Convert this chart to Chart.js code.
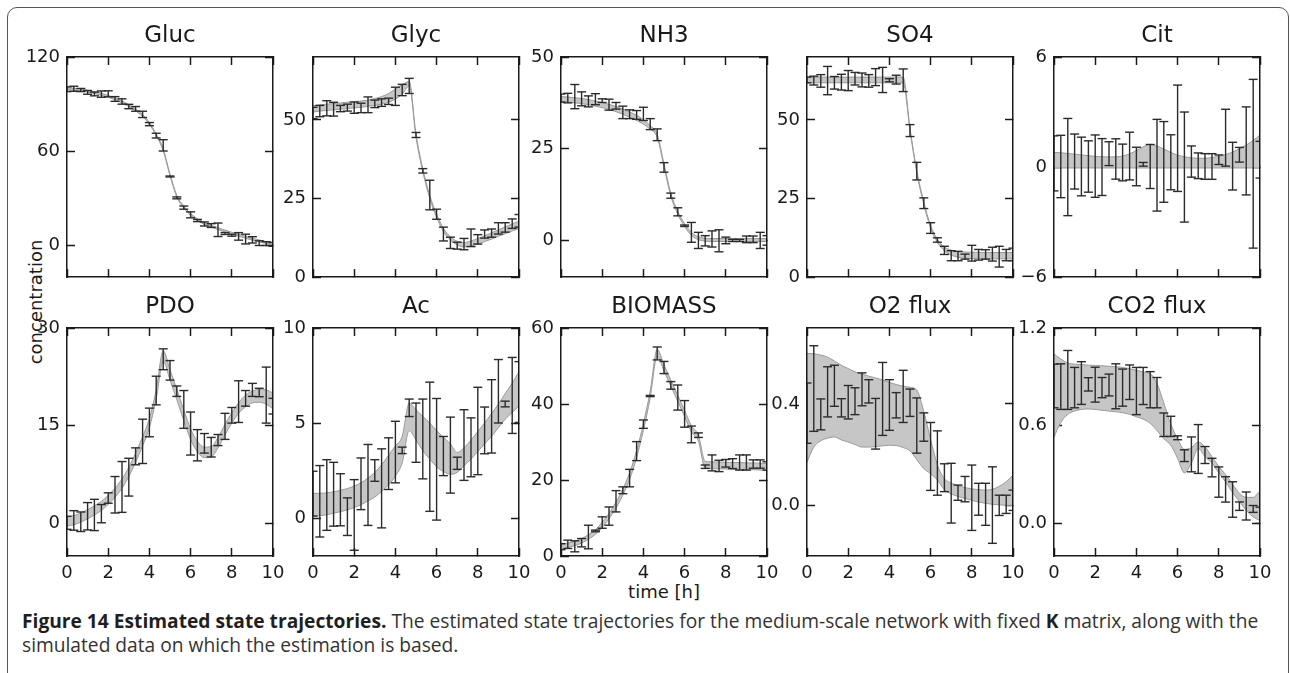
<!DOCTYPE html>
<html>
<head>
<meta charset="utf-8">
<title>Estimated state trajectories</title>
<script src="https://cdn.jsdelivr.net/npm/chart.js@4.4.1/dist/chart.umd.min.js"></script>
<style>
  html, body { margin: 0; padding: 0; background: #fff; }
  body { width: 1290px; height: 673px; position: relative; overflow: hidden; font-family: "DejaVu Sans", sans-serif; }
  #frame { position: absolute; left: 7px; top: 7px; width: 1282px; height: 800px; box-sizing: border-box; border: 1px solid #555; border-radius: 10px; }
  canvas { position: absolute; }
  .axlabel { position: absolute; font-size: 18px; line-height: 20px; color: #1a1a1a; white-space: nowrap; }
  #ylabel { left: 36px; top: 302px; transform: translate(-50%, -50%) rotate(-90deg); }
  #xlabel { left: 664px; top: 582px; transform: translateX(-50%); }
  #caption { position: absolute; left: 22px; top: 609px; font-family: "Open Sans", sans-serif; font-size: 19.2px; line-height: 24px; color: #333; white-space: nowrap; }
  #caption b { color: #1f1f1f; }
</style>
</head>
<body>
<div id="frame"></div>
<div id="ylabel" class="axlabel">concentration</div>
<div id="xlabel" class="axlabel">time [h]</div>
<div id="caption"><b>Figure 14 Estimated state trajectories.</b> The estimated state trajectories for the medium-scale network with fixed <b>K</b> matrix, along with the<br>simulated data on which the estimation is based.</div>
<script>
// sample times (h) and axis ticks
const times = [0, 0.33, 0.67, 1, 1.33, 1.67, 2, 2.33, 2.67, 3, 3.33, 3.67, 4, 4.33, 4.67, 5, 5.33, 5.67, 6, 6.33, 6.67, 7, 7.33, 7.67, 8, 8.33, 8.67, 9, 9.33, 9.67, 10];
const xTicks = [0, 2, 4, 6, 8, 10];

const panelNames = ['Gluc', 'Glyc', 'NH3', 'SO4', 'Cit', 'PDO', 'Ac', 'BIOMASS', 'O2 flux', 'CO2 flux'];
const yMins = [-20, 0, -10, 0, -6, -5, -2, 0, -0.2, -0.2];
const yMaxs = [120, 70, 50, 70, 6, 30, 10, 60, 0.7, 1.2];
const yTickVals = [[0, 60, 120], [0, 25, 50], [0, 25, 50], [0, 25, 50], [-6, 0, 6], [0, 15, 30], [0, 5, 10], [0, 20, 40, 60], [0, 0.4], [0, 0.6, 1.2]];
const yTickLabels = [['0', '60', '120'], ['0', '25', '50'], ['0', '25', '50'], ['0', '25', '50'], ['\u22126', '0', '6'], ['0', '15', '30'], ['0', '5', '10'], ['0', '20', '40', '60'], ['0.0', '0.4'], ['0.0', '0.6', '1.2']];

// simulated data: value and error bar half length
const glucObs = [99.5, 99.8, 99.0, 97.5, 96.5, 96.4, 96.6, 93.3, 91.7, 88.5, 87.0, 83.5, 77.3, 70.0, 63.8, 44.0, 30.4, 24.2, 19.6, 16.0, 13.8, 12.8, 10.1, 7.7, 6.6, 5.9, 4.2, 3.7, 1.6, 1.3, 0.8];
const glucErr = [1.5, 1.6, 1.0, 1.2, 1.2, 2.0, 1.9, 1.5, 1.7, 1.4, 1.5, 2.0, 1.0, 1.5, 3.6, 0.3, 0.6, 1.0, 1.9, 0.7, 1.3, 1.2, 4.3, 0.6, 0.6, 2.4, 3.1, 2.0, 1.5, 1.2, 1.2];
const glycObs = [52.2, 52.8, 53.7, 53.4, 53.6, 53.9, 53.9, 53.8, 54.8, 55.1, 55.5, 55.9, 57.5, 59.5, 60.8, 45.2, 33.8, 26.1, 20.0, 13.7, 10.9, 10.0, 10.5, 12.5, 12.0, 13.7, 14.0, 15.5, 15.8, 17.0, 17.9];
const glycErr = [1.8, 1.8, 2.4, 2.2, 1.0, 1.1, 1.8, 1.5, 2.5, 1.2, 1.2, 1.0, 2.9, 1.8, 2.4, 0.8, 0.7, 4.7, 1.6, 2.2, 1.8, 1.1, 1.8, 2.8, 1.5, 1.3, 1.3, 1.8, 1.5, 1.5, 2.0];
const nh3Obs = [38.8, 38.8, 39.2, 38.6, 37.9, 38.5, 38.1, 37.0, 36.7, 34.9, 34.4, 34.2, 34.5, 31.7, 28.8, 19.9, 12.2, 7.8, 4.0, 2.2, 0.0, -0.1, 0.4, -0.1, 0.0, 0.0, 0.0, 0.3, 0.3, 0.0, 0.0];
const nh3Err = [1.1, 1.3, 3.3, 1.9, 1.5, 1.5, 0.5, 1.5, 0.9, 1.7, 1.2, 1.2, 1.8, 1.5, 1.6, 1.3, 0.7, 1.1, 0.2, 2.7, 2.2, 1.4, 2.2, 3.0, 0.9, 0.3, 0.3, 0.9, 0.9, 2.2, 1.3];
const so4Obs = [62.7, 62.5, 62.4, 62.5, 61.8, 62.0, 62.5, 63.1, 62.7, 62.4, 63.6, 62.7, 62.6, 62.8, 62.6, 46.6, 33.7, 23.5, 15.6, 11.8, 8.5, 6.8, 6.7, 6.5, 7.6, 7.1, 7.2, 7.3, 6.5, 7.0, 7.2];
const so4Err = [0.9, 1.4, 2.0, 4.5, 2.0, 2.5, 3.2, 2.0, 2.2, 2.0, 2.7, 4.0, 0.5, 1.4, 3.6, 1.9, 2.8, 1.7, 1.7, 0.7, 1.3, 1.6, 1.5, 0.8, 2.5, 1.7, 1.5, 2.2, 3.3, 1.8, 2.0];
const citObs = [0.2, 0.03, 0.0, 0.3, 0.03, 0.03, 0.05, 0.0, 0.73, 0.44, 0.25, 0.6, 0.03, 0.15, 0.03, 0.1, 0.28, 0.26, 1.57, 0.0, 0.3, 0.07, 0.03, 0.03, 0.4, 1.6, 0.05, 0.67, 0.88, 0.18, 0.4];
const citErr = [1.5, 1.7, 2.65, 1.5, 1.6, 1.4, 1.7, 1.55, 0.65, 1.1, 1.0, 1.3, 1.05, 0.1, 1.2, 2.5, 2.2, 1.5, 2.9, 3.0, 0.85, 0.7, 0.7, 0.7, 0.26, 1.55, 1.3, 0.4, 2.4, 4.6, 1.0];
const pdoObs = [0.1, 0.46, 0.26, 1.1, 1.3, 1.5, 3.9, 4.4, 5.6, 7.1, 10.3, 12.6, 15.5, 20.4, 25.2, 23.5, 20.3, 17.5, 13.8, 12.0, 12.3, 11.7, 12.8, 14.9, 16.6, 18.7, 19.2, 20.5, 20.1, 19.7, 18.0];
const pdoErr = [1.0, 1.5, 1.5, 2.1, 2.4, 1.4, 0.8, 2.8, 3.9, 2.9, 1.3, 3.4, 2.2, 2.2, 1.6, 1.5, 0.8, 2.9, 3.3, 2.4, 1.5, 1.5, 0.85, 2.0, 1.2, 3.2, 1.2, 1.0, 0.65, 4.3, 1.2];
const acObs = [1.28, 0.88, 1.21, 1.25, 0.96, 0.07, 0.16, 1.8, 1.74, 2.5, 1.56, 2.86, 3.47, 3.56, 5.8, 4.49, 4.16, 3.75, 3.09, 3.26, 3.31, 2.88, 3.84, 3.72, 4.58, 4.61, 5.35, 6.67, 6.0, 6.45, 6.63];
const acErr = [1.18, 1.88, 1.86, 1.68, 1.37, 0.99, 1.86, 1.36, 2.13, 0.57, 2.08, 1.36, 1.62, 0.17, 0.46, 1.56, 2.1, 3.4, 3.2, 1.03, 2.0, 0.32, 1.86, 1.55, 2.3, 1.23, 1.93, 1.67, 0.15, 2.0, 1.6];
const bioObs = [2.46, 3.08, 2.55, 3.5, 5.0, 6.6, 8.8, 10.5, 14.4, 17.3, 20.5, 27.6, 34.7, 42.1, 53.3, 49.6, 44.9, 41.7, 37.4, 32.0, 31.8, 23.5, 24.5, 23.7, 24.4, 24.3, 24.6, 24.6, 24.2, 24.2, 23.7];
const bioErr = [0.8, 1.1, 1.45, 1.1, 3.1, 0.22, 1.5, 2.4, 2.8, 0.9, 2.3, 2.5, 1.1, 0.15, 1.7, 1.6, 1.0, 3.3, 3.5, 2.2, 0.6, 0.45, 2.1, 1.5, 1.0, 1.3, 2.0, 2.0, 1.1, 1.1, 1.1];
const o2Obs = [0.364, 0.461, 0.359, 0.448, 0.472, 0.385, 0.407, 0.411, 0.458, 0.45, 0.322, 0.42, 0.396, 0.395, 0.43, 0.405, 0.315, 0.309, 0.193, 0.167, 0.109, 0.048, 0.05, 0.064, 0.03, 0.024, 0.004, 0.001, 0.0, 0.004, 0.02];
const o2Err = [0.119, 0.169, 0.061, 0.099, 0.081, 0.036, 0.066, 0.053, 0.065, 0.046, 0.1, 0.144, 0.1, 0.05, 0.103, 0.054, 0.109, 0.056, 0.134, 0.127, 0.055, 0.118, 0.03, 0.05, 0.129, 0.063, 0.083, 0.151, 0.04, 0.036, 0.04];
const co2Obs = [0.844, 0.84, 0.881, 0.834, 0.862, 0.854, 0.852, 0.834, 0.85, 0.842, 0.834, 0.867, 0.813, 0.844, 0.821, 0.803, 0.606, 0.596, 0.526, 0.416, 0.424, 0.457, 0.42, 0.343, 0.254, 0.209, 0.147, 0.106, 0.107, 0.089, 0.05];
const co2Err = [0.134, 0.14, 0.181, 0.124, 0.131, 0.041, 0.107, 0.062, 0.067, 0.138, 0.114, 0.106, 0.145, 0.114, 0.111, 0.093, 0.072, 0.062, 0.012, 0.036, 0.107, 0.15, 0.052, 0.057, 0.093, 0.078, 0.109, 0.026, 0.086, 0.021, 0.05];

// estimated trajectories: lower / upper edge of the band
const glucLo = [99.2, 98.9, 98.4, 97.7, 96.8, 95.7, 94.4, 92.8, 90.8, 88.5, 85.7, 82.2, 77.2, 69.9, 60.4, 44.4, 30.9, 23.9, 19.2, 15.9, 13.6, 11.8, 10.2, 8.7, 7.3, 6.0, 4.7, 3.5, 2.4, 1.4, 0.5];
const glucHi = [100.4, 100.1, 99.6, 98.9, 98.0, 96.9, 95.6, 94.0, 92.0, 89.7, 86.9, 83.4, 78.4, 71.1, 61.6, 45.6, 32.1, 25.1, 20.4, 17.1, 14.8, 13.0, 11.4, 9.9, 8.5, 7.2, 5.9, 4.7, 3.6, 2.6, 1.7];
const glycLo = [52.5, 52.8, 53.0, 53.2, 53.4, 53.6, 53.8, 54.0, 54.3, 54.6, 55.0, 55.6, 56.6, 58.2, 60.8, 44.5, 33.5, 25.0, 19.0, 14.5, 11.8, 10.2, 9.6, 9.9, 10.5, 11.3, 12.1, 13.0, 13.8, 14.7, 15.4];
const glycHi = [54.5, 54.8, 55.0, 55.2, 55.4, 55.6, 55.8, 56.0, 56.3, 56.8, 57.4, 58.4, 59.8, 61.2, 62.2, 45.5, 34.5, 26.0, 20.0, 15.5, 12.8, 11.4, 11.0, 11.5, 12.3, 13.1, 14.1, 15.0, 16.0, 16.9, 17.8];
const nh3Lo = [37.8, 37.7, 37.5, 37.3, 37.0, 36.6, 36.2, 35.7, 35.1, 34.4, 33.6, 32.7, 31.7, 30.3, 28.1, 20.1, 12.1, 7.1, 3.8, 1.4, 0.2, -0.2, -0.3, -0.3, -0.3, -0.3, -0.3, -0.3, -0.3, -0.3, -0.3];
const nh3Hi = [39.2, 39.1, 38.9, 38.7, 38.4, 38.0, 37.6, 37.1, 36.5, 35.8, 35.0, 34.1, 32.9, 31.3, 28.9, 20.9, 12.9, 7.9, 4.6, 2.2, 1.0, 0.6, 0.5, 0.5, 0.5, 0.5, 0.5, 0.5, 0.5, 0.5, 0.5];
const so4Lo = [61.8, 61.8, 61.8, 61.8, 61.8, 61.8, 61.8, 61.8, 61.8, 61.8, 61.8, 61.8, 61.8, 61.8, 61.8, 46.6, 33.1, 23.1, 15.6, 11.0, 8.4, 7.0, 6.3, 6.0, 5.9, 5.9, 5.8, 5.8, 5.8, 5.8, 5.8];
const so4Hi = [63.6, 63.6, 63.6, 63.6, 63.6, 63.6, 63.6, 63.6, 63.6, 63.6, 63.6, 63.6, 63.6, 63.6, 63.6, 47.4, 33.9, 23.9, 16.4, 12.0, 9.6, 8.6, 8.1, 8.0, 7.9, 7.9, 7.8, 7.8, 7.8, 7.8, 7.8];
const citLo = [-0.05, -0.05, -0.05, -0.05, -0.05, -0.05, -0.05, -0.05, -0.05, -0.05, -0.05, -0.05, -0.05, -0.05, -0.05, -0.05, -0.05, -0.05, -0.05, -0.05, -0.05, -0.05, -0.05, -0.05, -0.05, -0.05, -0.05, -0.05, -0.05, -0.05, -0.05];
const citHi = [0.8, 0.78, 0.74, 0.7, 0.66, 0.62, 0.58, 0.56, 0.55, 0.56, 0.6, 0.72, 0.9, 1.1, 1.24, 1.15, 0.98, 0.8, 0.65, 0.56, 0.5, 0.48, 0.48, 0.52, 0.58, 0.68, 0.82, 1.0, 1.2, 1.45, 1.75];
const pdoLo = [-0.4, -0.2, 0.2, 0.7, 1.3, 2.0, 2.9, 4.0, 5.4, 7.2, 9.4, 11.9, 14.7, 19.1, 24.9, 22.0, 19.0, 15.8, 12.9, 11.0, 10.1, 10.2, 11.6, 13.6, 15.4, 16.9, 17.9, 18.5, 18.6, 18.3, 17.6];
const pdoHi = [1.0, 1.2, 1.6, 2.1, 2.7, 3.4, 4.3, 5.4, 6.8, 8.6, 10.8, 13.3, 16.1, 20.5, 26.5, 23.6, 20.6, 17.4, 14.5, 12.6, 11.7, 11.8, 13.2, 15.2, 17.0, 18.5, 19.7, 20.3, 20.6, 20.5, 20.0];
const acLo = [0.1, 0.12, 0.17, 0.25, 0.33, 0.43, 0.55, 0.7, 0.9, 1.1, 1.4, 1.75, 2.2, 2.9, 4.6, 4.1, 3.55, 3.1, 2.7, 2.45, 2.3, 2.4, 2.75, 3.1, 3.5, 3.9, 4.3, 4.75, 5.2, 5.55, 5.9];
const acHi = [1.3, 1.3, 1.32, 1.38, 1.45, 1.55, 1.68, 1.85, 2.1, 2.4, 2.8, 3.3, 3.8, 4.3, 6.05, 5.7, 5.35, 5.0, 4.6, 4.25, 3.9, 3.45, 3.7, 4.1, 4.55, 5.0, 5.5, 6.0, 6.55, 7.1, 7.7];
const bioLo = [1.7, 2.2, 2.7, 3.4, 4.4, 5.7, 7.5, 9.8, 12.6, 16.0, 20.1, 25.9, 33.1, 41.6, 52.6, 48.7, 44.7, 40.7, 36.7, 32.7, 30.2, 23.1, 23.0, 22.9, 22.9, 22.8, 22.8, 22.7, 22.7, 22.6, 22.5];
const bioHi = [2.9, 3.4, 3.9, 4.6, 5.6, 6.9, 8.9, 11.2, 14.2, 17.6, 21.9, 27.7, 34.9, 43.4, 54.4, 50.3, 46.3, 42.3, 38.3, 34.3, 31.8, 24.9, 24.8, 24.7, 24.7, 24.6, 24.6, 24.5, 24.5, 24.4, 24.3];
const o2Lo = [0.17, 0.23, 0.255, 0.265, 0.27, 0.258, 0.25, 0.24, 0.23, 0.23, 0.232, 0.235, 0.237, 0.236, 0.228, 0.215, 0.18, 0.145, 0.125, 0.1, 0.062, 0.045, 0.035, 0.027, 0.02, 0.013, 0.008, 0.004, 0.002, 0.0, 0.0];
const o2Hi = [0.6, 0.598, 0.593, 0.585, 0.57, 0.553, 0.54, 0.527, 0.518, 0.51, 0.503, 0.495, 0.485, 0.477, 0.47, 0.466, 0.455, 0.37, 0.26, 0.16, 0.105, 0.088, 0.078, 0.07, 0.065, 0.062, 0.06, 0.063, 0.075, 0.093, 0.12];
const co2Lo = [0.53, 0.62, 0.67, 0.69, 0.7, 0.703, 0.7, 0.695, 0.69, 0.685, 0.68, 0.67, 0.655, 0.64, 0.615, 0.57, 0.52, 0.48, 0.4, 0.31, 0.37, 0.46, 0.41, 0.37, 0.31, 0.255, 0.19, 0.135, 0.08, 0.04, 0.017];
const co2Hi = [1.04, 1.01, 0.985, 0.978, 0.975, 0.972, 0.97, 0.968, 0.965, 0.962, 0.958, 0.95, 0.94, 0.93, 0.92, 0.86, 0.74, 0.61, 0.52, 0.455, 0.465, 0.5, 0.47, 0.41, 0.35, 0.3, 0.24, 0.185, 0.16, 0.16, 0.2];

const panelData = [
  { obs: glucObs, err: glucErr, lo: glucLo, hi: glucHi },
  { obs: glycObs, err: glycErr, lo: glycLo, hi: glycHi },
  { obs: nh3Obs, err: nh3Err, lo: nh3Lo, hi: nh3Hi },
  { obs: so4Obs, err: so4Err, lo: so4Lo, hi: so4Hi },
  { obs: citObs, err: citErr, lo: citLo, hi: citHi },
  { obs: pdoObs, err: pdoErr, lo: pdoLo, hi: pdoHi },
  { obs: acObs, err: acErr, lo: acLo, hi: acHi },
  { obs: bioObs, err: bioErr, lo: bioLo, hi: bioHi },
  { obs: o2Obs, err: o2Err, lo: o2Lo, hi: o2Hi },
  { obs: co2Obs, err: co2Err, lo: co2Lo, hi: co2Hi }
];

// layout of the grid (plot area boxes)
const colLeft = [67, 313, 561, 807, 1054];
const rowTop = [57, 328];
const plotW = 206;
const plotH = [226, 228];
const AXIS_W = 60, TITLE_H = 50, PAD_R = 14, XLAB_H = 40;
const INK = '#1a1a1a';

Chart.defaults.font.family = '"DejaVu Sans", sans-serif';
Chart.defaults.color = INK;

const frameBorder = { display: true, color: INK, width: 1.5, z: 1 };
const inTicks = { drawOnChartArea: false, drawTicks: true, tickLength: -8, tickColor: INK, tickWidth: 1.5 };

function fixedTicks(vals) {
  return axis => { axis.ticks = vals.map(v => ({ value: v })); };
}

panelNames.forEach((name, i) => {
  const row = i < 5 ? 0 : 1;
  const col = i % 5;
  const xh = row ? XLAB_H : 0;
  const cv = document.createElement('canvas');
  cv.width = AXIS_W + plotW + PAD_R;
  cv.height = TITLE_H + plotH[row] + xh;
  cv.style.left = (colLeft[col] - AXIS_W) + 'px';
  cv.style.top = (rowTop[row] - TITLE_H) + 'px';
  document.body.appendChild(cv);

  const d = panelData[i];
  const bars = [];
  times.forEach((t, k) => {
    bars.push({ x: t, y: d.obs[k] - d.err[k] }, { x: t, y: d.obs[k] + d.err[k] }, { x: t, y: null });
  });
  const band = arr => times.map((t, k) => ({ x: t, y: arr[k] }));
  const yVals = yTickVals[i], yLabs = yTickLabels[i];

  new Chart(cv, {
    type: 'line',
    data: {
      datasets: [
        { data: bars, borderColor: '#2b2b2b', borderWidth: 1.4, spanGaps: false,
          pointStyle: 'line', pointRadius: 4.5, pointHoverRadius: 4.5,
          pointBorderColor: '#2b2b2b', pointBorderWidth: 1.4 },
        { data: band(d.lo), borderColor: '#9a9a9a', borderWidth: 1, pointRadius: 0,
          cubicInterpolationMode: 'monotone', fill: false },
        { data: band(d.hi), borderColor: '#9a9a9a', borderWidth: 1, pointRadius: 0,
          cubicInterpolationMode: 'monotone', fill: '-1', backgroundColor: '#c6c6c6' }
      ]
    },
    options: {
      responsive: false,
      animation: false,
      events: [],
      layout: { padding: { left: 0, right: PAD_R, top: 0, bottom: 0 } },
      plugins: {
        legend: { display: false },
        tooltip: { enabled: false },
        title: { display: true, text: name, color: INK, fullSize: false,
          font: { size: 23, weight: 'normal', lineHeight: 1.2 },
          padding: { top: 15, bottom: 7.4 } }
      },
      scales: {
        x: {
          type: 'linear', position: 'bottom', min: 0, max: 10,
          border: frameBorder, grid: inTicks,
          afterBuildTicks: fixedTicks(xTicks),
          ticks: { display: row === 1, padding: 15, maxRotation: 0, autoSkip: false,
            font: { size: 18 }, color: INK, callback: v => String(v) },
          afterFit: s => { s.height = xh; s.paddingLeft = 0; s.paddingRight = 0; }
        },
        x2: {
          type: 'linear', position: 'top', min: 0, max: 10,
          border: frameBorder, grid: inTicks,
          afterBuildTicks: fixedTicks(xTicks),
          ticks: { display: false },
          afterFit: s => { s.height = 0; s.paddingLeft = 0; s.paddingRight = 0; }
        },
        y: {
          type: 'linear', position: 'left', min: yMins[i], max: yMaxs[i],
          border: frameBorder, grid: inTicks,
          afterBuildTicks: fixedTicks(yVals),
          ticks: { padding: 15, font: { size: 18 }, color: INK,
            callback: v => yLabs[yVals.indexOf(v)] },
          afterFit: s => { s.width = AXIS_W; s.paddingTop = 0; s.paddingBottom = 0; }
        },
        y2: {
          type: 'linear', position: 'right', min: yMins[i], max: yMaxs[i],
          border: frameBorder, grid: inTicks,
          afterBuildTicks: fixedTicks(yVals),
          ticks: { display: false },
          afterFit: s => { s.width = 0; s.paddingTop = 0; s.paddingBottom = 0; }
        }
      }
    }
  });
});
</script>
</body>
</html>
